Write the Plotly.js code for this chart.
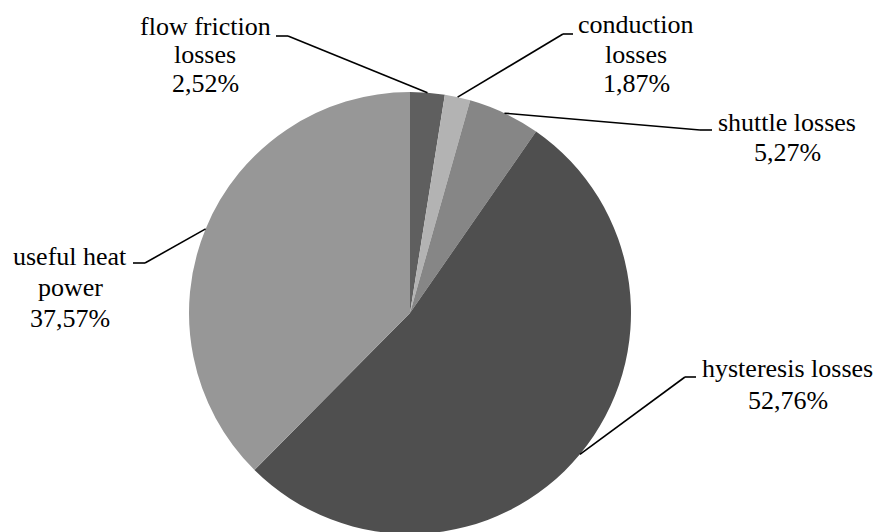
<!DOCTYPE html>
<html>
<head>
<meta charset="utf-8">
<script src="https://cdn.plot.ly/plotly-3.0.1.min.js"></script>
<style>
  html, body { margin: 0; padding: 0; overflow: hidden; background: #ffffff; }
  #chart { width: 878px; height: 626px; }
</style>
</head>
<body>
<div id="chart"></div>
<script>
// Energy balance shares (percent of input power)
const categories = ['flow friction losses', 'conduction losses', 'shuttle losses', 'hysteresis losses', 'useful heat power'];
const shares = [2.52, 1.87, 5.27, 52.76, 37.57];
const labelLines = [['flow friction', 'losses'], ['conduction', 'losses'], ['shuttle losses'], ['hysteresis losses'], ['useful heat', 'power']];
const sliceColors = ['#5f5f5f', '#b3b3b3', '#868686', '#4f4f4f', '#979797'];

// Figure geometry (pixels)
const W = 878, H = 626;
const cx = 410, cy = 313, R = 221;

// Callout placement: text centre, first baseline, line step, elbow and tail of the leader
const callouts = [
  { tx: 205,   base: 34.5,  step: 28.5, elbow: [288, 36],  tail: [276, 36] },
  { tx: 636,   base: 32,    step: 30,   elbow: [563, 34],  tail: [573, 34] },
  { tx: 787,   base: 130.5, step: 30,   elbow: [700, 130], tail: [712, 130] },
  { tx: 787.5, base: 376.7, step: 32,   elbow: [685, 377], tail: [696, 377] },
  { tx: 70,    base: 264,   step: 31,   elbow: [145, 263], tail: [133, 263] }
];

const FONT = 'Liberation Serif, Times New Roman, serif';
const FS = 26;
const px = x => x / W;
const py = y => 1 - y / H;

const total = shares.reduce((a, b) => a + b, 0);
const shapes = [];
const annotations = [];
let cum = 0;
shares.forEach((v, i) => {
  const midFrac = (cum + v / 2) / total;
  cum += v;
  const ang = midFrac * 2 * Math.PI; // clockwise from 12 o'clock
  const ex = cx + R * Math.sin(ang);
  const ey = cy - R * Math.cos(ang);
  const c = callouts[i];
  const lineStyle = { color: '#000000', width: 1.6 };
  shapes.push({ type: 'line', xref: 'paper', yref: 'paper',
    x0: px(ex), y0: py(ey), x1: px(c.elbow[0]), y1: py(c.elbow[1]), line: lineStyle });
  shapes.push({ type: 'line', xref: 'paper', yref: 'paper',
    x0: px(c.elbow[0]), y0: py(c.elbow[1]), x1: px(c.tail[0]), y1: py(c.tail[1]), line: lineStyle });

  const lines = labelLines[i].concat([v.toFixed(2).replace('.', ',') + '%']);
  lines.forEach((t, k) => {
    const baseline = c.base + k * c.step;
    annotations.push({
      text: t, xref: 'paper', yref: 'paper',
      x: px(c.tx), y: py(baseline - 8),
      xanchor: 'center', yanchor: 'middle', showarrow: false,
      font: { family: FONT, size: FS, color: '#000000' }
    });
  });
});

const trace = {
  type: 'pie',
  labels: categories,
  values: shares,
  sort: false,
  direction: 'clockwise',
  rotation: 0,
  textinfo: 'none',
  hoverinfo: 'label+percent',
  marker: { colors: sliceColors, line: { width: 0 } },
  domain: { x: [(cx - R) / W, (cx + R) / W], y: [1 - (cy + R) / H, 1 - (cy - R) / H] }
};

const layout = {
  width: W, height: H,
  margin: { l: 0, r: 0, t: 0, b: 0 },
  paper_bgcolor: '#ffffff',
  showlegend: false,
  shapes: shapes,
  annotations: annotations
};

Plotly.newPlot('chart', [trace], layout, { displayModeBar: false, staticPlot: true });
</script>
</body>
</html>
